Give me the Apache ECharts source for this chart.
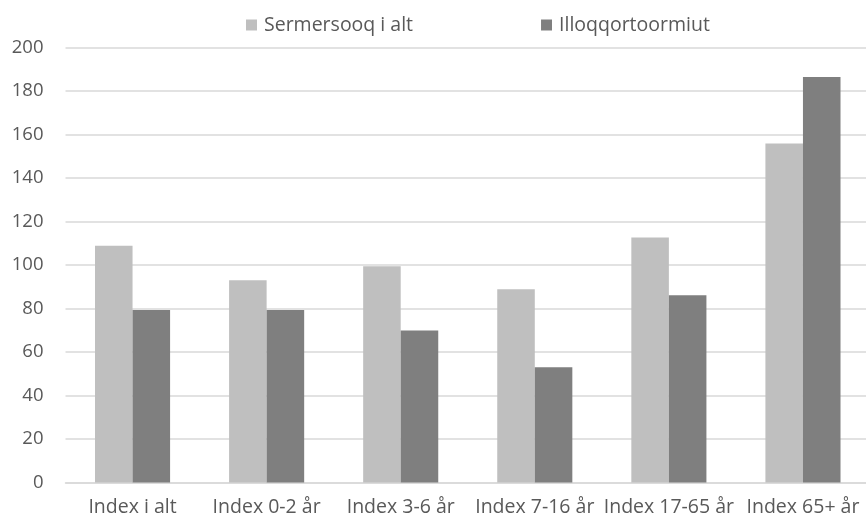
<!DOCTYPE html>
<html><head><meta charset="utf-8">
<script src="https://cdn.jsdelivr.net/npm/echarts@6/dist/echarts.min.js"></script>
<style>html,body{margin:0;padding:0;background:#fff;overflow:hidden;width:866px;height:522px}#c{width:870px;height:522px}</style>
</head><body><div id="c"></div>
<script>
const categories = ["Index i alt","Index 0-2 år","Index 3-6 år","Index 7-16 år","Index 17-65 år","Index 65+ år"];
const seriesNames = ["Sermersooq i alt","Illoqqortoormiut"];
const sermersooq = [108.8, 93.0, 99.4, 88.9, 112.7, 155.9];
const illoqqortoormiut = [79.3, 79.3, 69.9, 53.0, 86.1, 186.4];
const yTicks = {min:0, max:200, interval:20};
const font = "Open Sans";
const chart = echarts.init(document.getElementById('c'), null, {renderer:'canvas'});
chart.setOption({
  animation:false,
  textStyle:{fontFamily:font},
  legend:{top:10, left:241, itemGap:128, itemWidth:11, itemHeight:11, icon:'rect',
    textStyle:{fontFamily:font, fontSize:19.5, color:'#595959', padding:[0,0,0,2]},
    data:seriesNames},
  grid:{left:65.5, right:0, top:47.5, bottom:39.5, containLabel:false},
  xAxis:{type:'category', data:categories,
    axisLine:{lineStyle:{color:'#d9d9d9', width:1.5}}, axisTick:{show:false},
    axisLabel:{fontFamily:font, fontSize:19.5, color:'#595959', margin:15, interval:0}},
  yAxis:{type:'value', min:yTicks.min, max:yTicks.max, interval:yTicks.interval,
    axisLine:{show:false}, axisTick:{show:false},
    splitLine:{lineStyle:{color:'#d9d9d9', width:1.5}},
    axisLabel:{fontFamily:font, fontSize:18.5, color:'#595959', margin:22}},
  series:[
    {name:seriesNames[0], type:'bar', data:sermersooq, barGap:'0%', barCategoryGap:'44%',
      itemStyle:{color:'#bfbfbf'}},
    {name:seriesNames[1], type:'bar', data:illoqqortoormiut, barGap:'0%', barCategoryGap:'44%',
      itemStyle:{color:'#7f7f7f'}}
  ]
});
</script></body></html>
